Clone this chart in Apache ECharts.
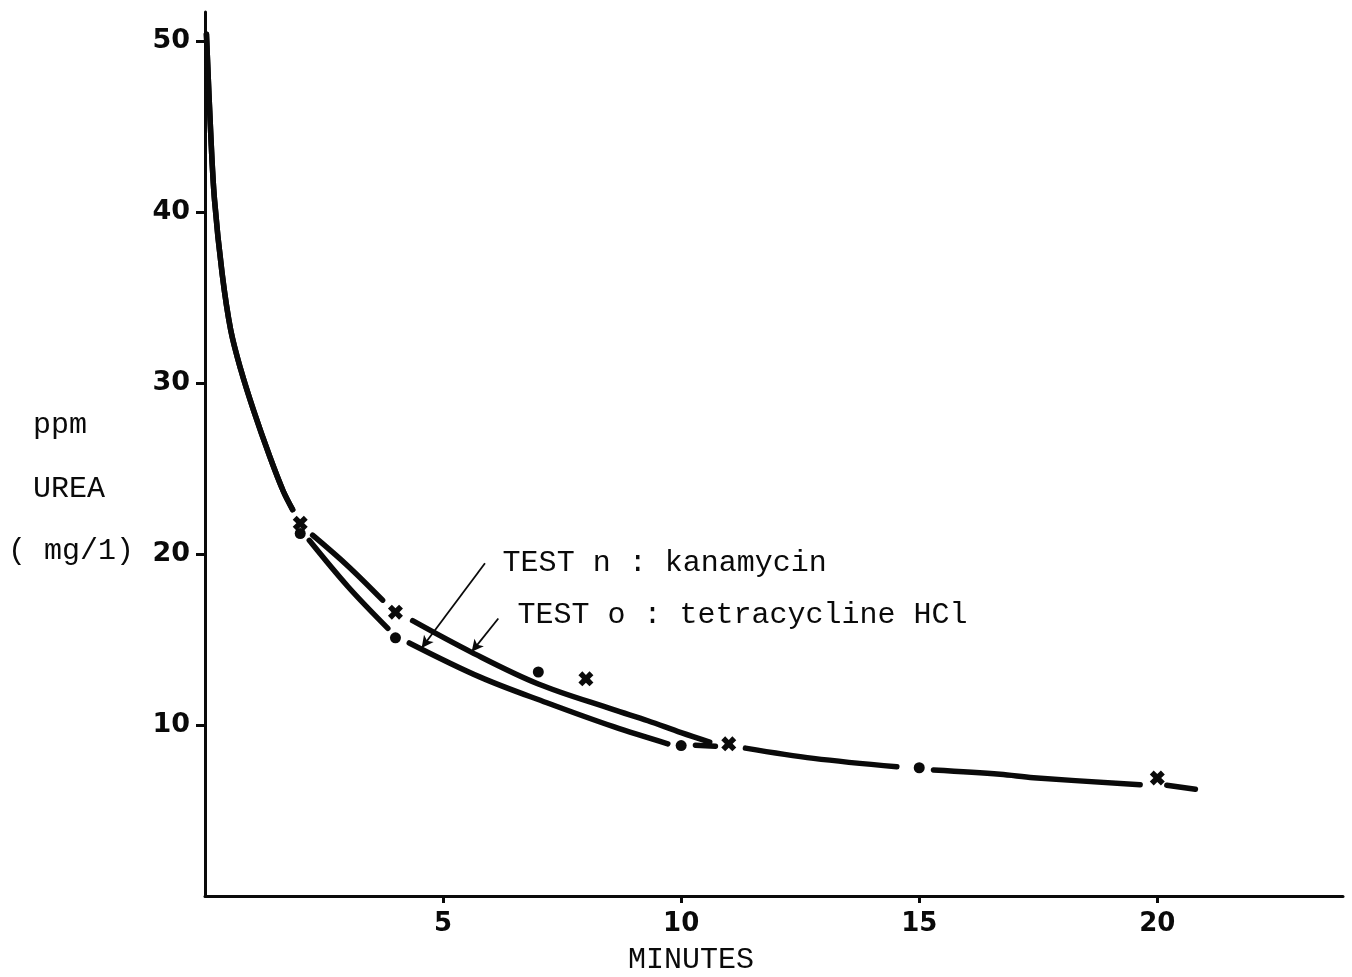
<!DOCTYPE html>
<html>
<head>
<meta charset="utf-8">
<script src="https://cdn.jsdelivr.net/npm/echarts@6/dist/echarts.min.js"></script>
<style>
html,body{margin:0;padding:0;background:#fff;}
#chart{width:1352px;height:977px;}
</style>
</head>
<body>
<div id="chart"></div>
<script>
// ---- data (minutes, ppm urea) ----
const xTickValues = [5, 10, 15, 20];
const yTickValues = [10, 20, 30, 40, 50];

// measured points
const kanamycinPoints = [[2, 21.2], [4, 15.1], [7, 13.1], [10, 8.8], [15, 7.5]];
const tetracyclinePoints = [[2, 21.8], [4, 16.6], [8, 12.7], [11, 8.9], [20, 6.9]];

// hand-drawn fitted curves ('-' = gap in the drawn line)
const kanamycinCurve = [
  [0.03, 50.4], [0.12, 44.6], [0.2, 40.7], [0.36, 36.4], [0.54, 33.1], [0.75, 30.8],
  [1.02, 28.4], [1.36, 25.7], [1.64, 23.7], [1.84, 22.6], [2, '-'],
  [2.19, 20.8], [3.0, 18.1], [3.84, 15.65], [4, '-'],
  [4.29, 14.8], [5.78, 12.8], [7.18, 11.3], [8.58, 9.9], [9.72, 8.9], [10, '-'],
  [10.3, 8.82], [10.72, 8.76], [11, '-'],
  [11.35, 8.65], [12.78, 8.05], [14.53, 7.56], [15, '-'],
  [15.3, 7.37], [16.7, 7.12], [17.4, 6.92], [19.64, 6.5], [20, '-'],
  [20.2, 6.48], [20.8, 6.24]
];
const tetracyclineCurve = [
  [0.03, 50.4], [0.12, 44.6], [0.2, 40.7], [0.36, 36.4], [0.54, 33.1], [0.75, 30.8],
  [1.02, 28.4], [1.36, 25.7], [1.64, 23.7], [1.84, 22.6], [2, '-'],
  [2.26, 21.1], [3.0, 19.3], [3.73, 17.3], [4, '-'],
  [4.36, 16.1], [5.6, 14.25], [7.0, 12.4], [8.58, 10.9], [9.3, 10.25], [10.0, 9.55], [10.6, 9.0]
];

// annotation labels and arrows (data coordinates)
const labelTexts = ['TEST n : kanamycin', 'TEST o : tetracycline HCl'];
const labelAnchors = [[6.24, 19.5], [6.55, 16.45]];
const arrowStarts = [[5.88, 19.46], [6.16, 16.23]];
const arrowEnds = [[4.55, 14.5], [5.6, 14.28]];

const yNameLines = ['ppm', 'UREA', '( mg/1)'];
const xName = 'MINUTES';

// ---- chart ----
const INK = '#0a0a0a';
const MONO = '"Liberation Mono", "DejaVu Sans Mono", monospace';
const TICKFONT = '"DejaVu Sans", sans-serif';
const crossSymbol = 'path://M0,2.6 L2.6,0 L5,2.4 L7.4,0 L10,2.6 L7.6,5 L10,7.4 L7.4,10 L5,7.6 L2.6,10 L0,7.4 L2.4,5 Z';

const chart = echarts.init(document.getElementById('chart'), null, {renderer: 'canvas'});

const curveStyle = {
  type: 'line', smooth: 0.35, showSymbol: false, symbol: 'none', silent: true,
  connectNulls: false,
  lineStyle: {color: INK, width: 5.5, cap: 'round', join: 'round'},
  z: 3
};

chart.setOption({
  animation: false,
  backgroundColor: '#ffffff',
  grid: {left: 205, right: 9, top: 12, bottom: 81, containLabel: false},
  xAxis: {
    type: 'value', min: 0, max: 23.9, interval: 5,
    splitLine: {show: false},
    axisLine: {show: true, onZero: false, lineStyle: {color: INK, width: 3}},
    axisTick: {show: true, customValues: xTickValues, length: 7, inside: false, lineStyle: {color: INK, width: 3}},
    axisLabel: {
      customValues: xTickValues, margin: 15, color: INK,
      fontFamily: TICKFONT, fontWeight: 'bold', fontSize: 26
    }
  },
  yAxis: {
    type: 'value', min: 0, max: 51.7, interval: 10,
    splitLine: {show: false},
    axisLine: {show: true, onZero: false, lineStyle: {color: INK, width: 3}},
    axisTick: {show: true, customValues: yTickValues, length: 9, inside: false, lineStyle: {color: INK, width: 3}},
    axisLabel: {
      customValues: yTickValues, margin: 15, color: INK,
      fontFamily: TICKFONT, fontWeight: 'bold', fontSize: 27
    }
  },
  series: [
    Object.assign({name: 'kanamycin curve', data: kanamycinCurve}, curveStyle),
    Object.assign({name: 'tetracycline curve', data: tetracyclineCurve}, curveStyle),
    {
      name: 'TEST n : kanamycin', type: 'scatter', data: kanamycinPoints,
      symbol: 'circle', symbolSize: 11, silent: true, z: 4,
      itemStyle: {color: INK, opacity: 1},
      markPoint: {
        silent: true, symbol: 'circle', symbolSize: 1,
        itemStyle: {color: 'rgba(0,0,0,0)'},
        label: {
          show: true, position: 'right', distance: 0, formatter: '{b}',
          color: INK, fontFamily: MONO, fontSize: 30
        },
        data: labelTexts.map((t, i) => ({name: t, coord: labelAnchors[i]}))
      },
      markLine: {
        silent: true, symbol: ['none', 'arrow'], symbolSize: [9, 12],
        label: {show: false},
        lineStyle: {color: INK, width: 1.8, type: 'solid', opacity: 1},
        data: arrowStarts.map((s, i) => [{coord: s}, {coord: arrowEnds[i]}])
      }
    },
    {
      name: 'TEST o : tetracycline HCl', type: 'scatter', data: tetracyclinePoints,
      symbol: crossSymbol, symbolSize: 15, silent: true, z: 4,
      itemStyle: {color: INK, opacity: 1}
    }
  ],
  graphic: [
    {type: 'text', left: 33, top: 410, style: {text: yNameLines[0], fill: INK, font: '30px ' + MONO}},
    {type: 'text', left: 33, top: 474, style: {text: yNameLines[1], fill: INK, font: '30px ' + MONO}},
    {type: 'text', left: 8, top: 536, style: {text: yNameLines[2], fill: INK, font: '30px ' + MONO}},
    {type: 'text', left: 628, top: 945, style: {text: xName, fill: INK, font: '30px ' + MONO}}
  ]
});
</script>
</body>
</html>
